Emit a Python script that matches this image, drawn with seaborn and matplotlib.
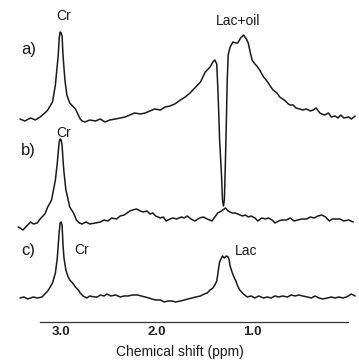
import pandas as pd
import seaborn as sns
from matplotlib import pyplot as plt

sns.set_style('white')
plt.rcParams['font.family'] = ['Liberation Sans', 'DejaVu Sans']

# spectrum a) : Cr + lactate/oil (inverted lipid)
ppm_a = [3.43, 3.38, 3.32, 3.27, 3.22, 3.17, 3.14, 3.09, 3.06, 3.04, 3.03, 3.02, 3.01, 3.00, 2.99,
         2.98, 2.97, 2.96, 2.94, 2.91, 2.87, 2.85, 2.82, 2.80, 2.78, 2.75, 2.70, 2.64, 2.59, 2.54,
         2.49, 2.43, 2.38, 2.33, 2.28, 2.23, 2.17, 2.12, 2.07, 2.02, 1.96, 1.91, 1.86, 1.81, 1.75,
         1.70, 1.65, 1.60, 1.54, 1.49, 1.44, 1.41, 1.39, 1.37, 1.36, 1.35, 1.34, 1.32, 1.31, 1.30,
         1.29, 1.28, 1.27, 1.26, 1.25, 1.23, 1.20, 1.17, 1.15, 1.12, 1.09, 1.06, 1.04, 1.02, 1.00,
         0.97, 0.95, 0.92, 0.88, 0.86, 0.83, 0.81, 0.78, 0.74, 0.71, 0.65, 0.62, 0.60, 0.57, 0.54,
         0.50, 0.47, 0.43, 0.39, 0.36, 0.33, 0.29, 0.27, 0.24, 0.20, 0.17, 0.13, 0.10, 0.07, 0.04,
         -0.01, -0.04, -0.08]
int_a = [2, 0, 3, 1, 4, 8, 11, 19, 36, 56, 66, 83, 89, 88, 85,
         66, 53, 41, 26, 18, 14, 12, 6, 2, 0, -1, 1, 0, 2, -1,
         1, 2, 3, 4, 6, 8, 7, 8, 10, 12, 11, 14, 15, 17, 21,
         24, 28, 33, 39, 49, 54, 59, 61, 57, 36, 11, -19, -54, -79, -85,
         -79, -44, -4, 41, 66, 74, 79, 78, 78, 83, 86, 82, 78, 69, 61,
         57, 55, 51, 44, 42, 38, 35, 31, 28, 24, 20, 17, 16, 16, 13,
         12, 11, 12, 10, 11, 13, 8, 7, 6, 8, 4, 5, 3, 6, 3,
         4, 2, 5]

# spectrum b) : Cr, lipid suppressed
ppm_b = [3.45, 3.43, 3.40, 3.36, 3.32, 3.29, 3.25, 3.22, 3.20, 3.17, 3.14, 3.10, 3.08, 3.06, 3.04,
         3.03, 3.02, 3.01, 3.00, 2.99, 2.98, 2.97, 2.95, 2.93, 2.91, 2.87, 2.84, 2.81, 2.78, 2.74,
         2.70, 2.64, 2.59, 2.55, 2.51, 2.47, 2.42, 2.38, 2.34, 2.31, 2.28, 2.25, 2.21, 2.17, 2.14,
         2.10, 2.07, 2.04, 2.01, 1.96, 1.93, 1.90, 1.86, 1.83, 1.79, 1.74, 1.71, 1.68, 1.64, 1.60,
         1.55, 1.51, 1.47, 1.42, 1.39, 1.36, 1.32, 1.28, 1.25, 1.21, 1.18, 1.15, 1.10, 1.07, 1.04,
         1.01, 0.97, 0.94, 0.90, 0.86, 0.83, 0.79, 0.76, 0.72, 0.69, 0.64, 0.60, 0.56, 0.52, 0.48,
         0.43, 0.39, 0.35, 0.31, 0.27, 0.23, 0.19, 0.16, 0.12, 0.08, 0.04, -0.01, -0.06]
int_b = [-7, -8, -10, -6, -2, -4, -3, 1, 3, 6, 13, 20, 30, 40, 57,
         68, 78, 81, 80, 75, 60, 48, 30, 22, 13, 7, 0, -3, -4, -2,
         -4, -3, -2, 0, -1, 2, 1, 4, 5, 7, 9, 10, 11, 9, 8,
         9, 6, 7, 4, 2, 3, -1, 1, 2, 1, 3, 2, 4, 1, -1,
         2, 3, 1, -1, 3, 7, 9, 12, 9, 7, 7, 6, 4, 5, 3,
         4, 2, -1, 2, 1, 2, 0, -3, -1, 0, 0, 2, -1, 0, 1,
         1, 3, 2, 4, 5, 3, -1, 1, 1, 1, -1, 0, -2]

# spectrum c) : Cr + Lac
ppm_c = [3.43, 3.39, 3.35, 3.29, 3.25, 3.20, 3.17, 3.14, 3.12, 3.09, 3.06, 3.04, 3.03, 3.02, 3.01,
         3.00, 2.99, 2.98, 2.97, 2.95, 2.93, 2.91, 2.88, 2.85, 2.82, 2.80, 2.77, 2.73, 2.70, 2.65,
         2.62, 2.59, 2.55, 2.52, 2.48, 2.43, 2.38, 2.34, 2.30, 2.25, 2.20, 2.16, 2.12, 2.08, 2.05,
         2.01, 1.96, 1.92, 1.88, 1.84, 1.80, 1.75, 1.71, 1.67, 1.63, 1.59, 1.54, 1.50, 1.47, 1.44,
         1.41, 1.39, 1.37, 1.36, 1.35, 1.34, 1.32, 1.31, 1.29, 1.27, 1.25, 1.24, 1.23, 1.21, 1.19,
         1.17, 1.15, 1.13, 1.09, 1.05, 1.01, 0.97, 0.93, 0.88, 0.84, 0.80, 0.76, 0.72, 0.68, 0.63,
         0.59, 0.55, 0.51, 0.47, 0.42, 0.38, 0.34, 0.30, 0.26, 0.21, 0.17, 0.13, 0.09, 0.05, 0.01,
         -0.04, -0.08]
int_c = [0, 1, -1, 1, 0, 1, 4, 7, 10, 15, 25, 40, 53, 66, 75,
         76, 73, 53, 40, 28, 22, 18, 15, 11, 8, 5, 2, 0, 2, 1,
         1, 3, 2, 4, 2, 3, 1, 2, 2, 3, 3, 2, 1, 0, -1,
         -2, -2, -4, -3, -3, -4, -3, -2, -1, 0, 1, 2, 4, 5, 8,
         10, 13, 17, 23, 30, 36, 40, 42, 40, 42, 41, 38, 32, 26, 21,
         17, 12, 8, 4, 1, 2, 0, 2, 0, 1, 0, 2, 1, 2, 1,
         3, 2, 3, 2, 1, 0, 2, 0, -1, 0, 1, 0, 1, 0, 1,
         4, 2]

spectra = pd.concat([
    pd.DataFrame({'ppm': ppm_a, 'signal': int_a, 'trace': 'a'}),
    pd.DataFrame({'ppm': ppm_b, 'signal': int_b, 'trace': 'b'}),
    pd.DataFrame({'ppm': ppm_c, 'signal': int_c, 'trace': 'c'}),
], ignore_index=True)

# vertical stacking of the three traces
offsets = {'a': 201, 'b': 102, 'c': 24}
spectra['y'] = spectra['signal'] + spectra['trace'].map(offsets)

fig = plt.figure(figsize=(3.59, 3.60), dpi=100)
ax = fig.add_axes([0, 0.1056, 1, 0.8944])

for name, grp in spectra.groupby('trace'):
    sns.lineplot(x='ppm', y='y', data=grp, ax=ax, sort=False, estimator=None,
                 color='#1a1a1a', linewidth=1.1)

ax.set_xlim(3.64, -0.12)
ax.set_ylim(0, 322)

for s in ['top', 'left', 'right']:
    ax.spines[s].set_visible(False)
ax.spines['bottom'].set_bounds(3.22, 0.0)
ax.spines['bottom'].set_color('#333333')
ax.spines['bottom'].set_linewidth(0.9)

ax.set_xticks([3.0, 2.0, 1.0])
ax.set_xticklabels(['3.0', '2.0', '1.0'], fontsize=9.5, fontweight='bold', color='#222222')
ax.tick_params(axis='x', direction='in', length=5.5, width=1.1, color='#8c8c8c', pad=3)
ax.set_yticks([])
ax.set_ylabel('')
ax.set_xlabel('Chemical shift (ppm)', fontsize=10, color='#1a1a1a', labelpad=5)

txt = dict(color='#1a1a1a', ha='center', va='center')
ax.text(3.34, 272, 'a)', fontsize=12, **txt)
ax.text(3.34, 171, 'b)', fontsize=12, **txt)
ax.text(3.34, 71, 'c)', fontsize=12, **txt)
ax.text(2.97, 306, 'Cr', fontsize=10, **txt)
ax.text(2.97, 189, 'Cr', fontsize=10, **txt)
ax.text(2.79, 72, 'Cr', fontsize=10, **txt)
ax.text(1.15, 301, 'Lac+oil', fontsize=10, **txt)
ax.text(1.06, 71, 'Lac', fontsize=10, **txt)

fig.savefig('out.png', dpi=100)
